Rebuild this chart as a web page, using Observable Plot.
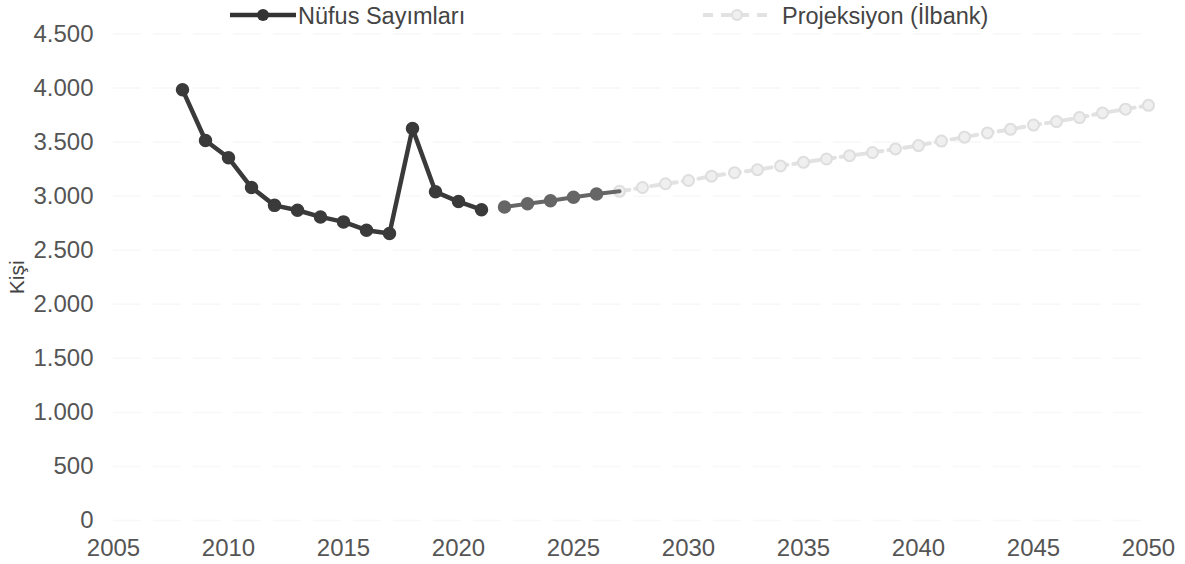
<!DOCTYPE html>
<html>
<head>
<meta charset="utf-8">
<script src="https://cdn.jsdelivr.net/npm/d3@7"></script>
<script src="https://cdn.jsdelivr.net/npm/@observablehq/plot@0.6"></script>
<style>
  body { margin: 0; background: #fff; font-family: "Liberation Sans", Arial, sans-serif; }
  #wrap { position: relative; width: 1185px; height: 564px; }
  #legend { position: absolute; left: 0; top: 0; width: 1185px; height: 32px; }
  #chart svg { display: block; }
</style>
</head>
<body>
<div id="wrap">
<div id="chart"></div>
<div id="legend"></div>
</div>
<script>
const censusYears = [2008, 2009, 2010, 2011, 2012, 2013, 2014, 2015, 2016, 2017, 2018, 2019, 2020, 2021];
const censusValues = [3985, 3515, 3355, 3080, 2915, 2870, 2808, 2762, 2685, 2655, 3625, 3040, 2950, 2875];
const projYears = [2022, 2023, 2024, 2025, 2026, 2027, 2028, 2029, 2030, 2031, 2032, 2033, 2034, 2035, 2036,
  2037, 2038, 2039, 2040, 2041, 2042, 2043, 2044, 2045, 2046, 2047, 2048, 2049, 2050];
const projValues = [2900, 2930, 2958, 2990, 3020, 3045, 3080, 3115, 3145, 3185, 3217, 3245, 3280, 3313, 3344,
  3375, 3403, 3437, 3468, 3510, 3546, 3585, 3618, 3658, 3690, 3727, 3770, 3805, 3840];
const xTicks = [2005, 2010, 2015, 2020, 2025, 2030, 2035, 2040, 2045, 2050];
const yTicks = [0, 500, 1000, 1500, 2000, 2500, 3000, 3500, 4000, 4500];
const seriesNames = ["Nüfus Sayımları", "Projeksiyon (İlbank)"];

const census = censusYears.map((y, i) => ({year: y, value: censusValues[i]}));
const proj = projYears.map((y, i) => ({year: y, value: projValues[i]}));
const projDark = proj.filter(d => d.year <= 2027);
const projDarkPts = proj.filter(d => d.year <= 2026);
const projLight = proj.filter(d => d.year >= 2027);

const fmt = d => d3.format(",")(d).replace(/,/g, ".");
const FONT = "'Liberation Sans', Arial, sans-serif";

const chart = Plot.plot({
  width: 1185,
  height: 564,
  marginTop: 33.5,
  marginBottom: 44,
  marginLeft: 113,
  marginRight: 37,
  style: {fontFamily: FONT, fontSize: "24px", color: "#555", background: "transparent", overflow: "visible"},
  x: {domain: [2005, 2050]},
  y: {domain: [0, 4500]},
  marks: [
    Plot.ruleY(yTicks, {stroke: "#f8f8f8", strokeWidth: 1.5, strokeDasharray: "28,12"}),
    Plot.axisY({ticks: yTicks, tickSize: 0, tickPadding: 20, tickFormat: fmt, fill: "#555", label: null}),
    Plot.axisY({ticks: [], tickSize: 0, label: "Kişi", labelAnchor: "center", labelArrow: "none",
      labelOffset: 104, fontSize: 21, fill: "#444"}),
    Plot.axisX({ticks: xTicks, tickSize: 0, tickPadding: 18, tickFormat: d => String(d), fill: "#555", label: null}),
    Plot.line(projLight, {x: "year", y: "value", stroke: "#e2e2e2", strokeWidth: 4, strokeDasharray: "10,6"}),
    Plot.dot(projLight, {x: "year", y: "value", r: 5.5, fill: "#efefef", stroke: "#dedede", strokeWidth: 2}),
    Plot.line(projDark, {x: "year", y: "value", stroke: "#666", strokeWidth: 4}),
    Plot.dot(projDarkPts, {x: "year", y: "value", r: 6, fill: "#666", stroke: "#666"}),
    Plot.line(census, {x: "year", y: "value", stroke: "#3a3a3a", strokeWidth: 4.5}),
    Plot.dot(census, {x: "year", y: "value", r: 6, fill: "#3a3a3a", stroke: "#3a3a3a"})
  ]
});
document.getElementById("chart").appendChild(chart);

// legend
const lg = d3.select("#legend").append("svg").attr("width", 1185).attr("height", 32);
const g1 = lg.append("g");
g1.append("line").attr("x1", 230).attr("x2", 296).attr("y1", 15).attr("y2", 15).attr("stroke", "#333").attr("stroke-width", 4.5);
g1.append("circle").attr("cx", 263).attr("cy", 15).attr("r", 6).attr("fill", "#333");
g1.append("text").attr("x", 298).attr("y", 24).attr("font-size", 23.5).attr("fill", "#444")
  .attr("font-family", FONT).text(seriesNames[0]);
const g2 = lg.append("g");
g2.append("line").attr("x1", 703).attr("x2", 770).attr("y1", 15).attr("y2", 15).attr("stroke", "#e2e2e2").attr("stroke-width", 4).attr("stroke-dasharray", "10,8");
g2.append("circle").attr("cx", 737).attr("cy", 15).attr("r", 5).attr("fill", "#efefef").attr("stroke", "#dedede").attr("stroke-width", 2);
g2.append("text").attr("x", 782).attr("y", 24).attr("font-size", 23.5).attr("fill", "#444")
  .attr("font-family", FONT).text(seriesNames[1]);
</script>
</body>
</html>
